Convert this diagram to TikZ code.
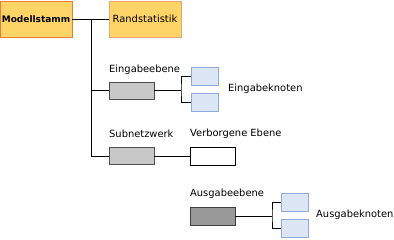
\documentclass[tikz,border=0pt]{standalone}
\usepackage{fontspec}
\setmainfont{DejaVu Sans}
\usepackage{xcolor}
\usetikzlibrary{positioning,calc}

\definecolor{stammfill}{HTML}{FFD467}
\definecolor{stammdraw}{HTML}{E47F35}
\definecolor{graufill}{HTML}{C8C8C8}
\definecolor{dunkelfill}{HTML}{999999}
\definecolor{knotfill}{HTML}{DCE6F4}
\definecolor{knotdraw}{HTML}{8FAADC}

\begin{document}
\begin{tikzpicture}[
    x=1pt, y=-1pt,
    box/.style={draw, inner sep=0pt, line width=0.8pt},
    stammbox/.style={box, fill=stammfill, draw=stammdraw, minimum width=72pt, minimum height=36pt},
    schichtbox/.style={box, fill=graufill, draw=black!70, minimum width=45pt, minimum height=17pt},
    ausbox/.style={box, fill=dunkelfill, draw=black!75, minimum width=45pt, minimum height=18pt},
    leerbox/.style={box, fill=white, draw=black, minimum width=45pt, minimum height=18pt},
    knotbox/.style={box, fill=knotfill, draw=knotdraw, minimum width=27pt, minimum height=18pt},
    lbl/.style={anchor=west, inner sep=0pt, font=\fontsize{9.9}{11}\selectfont},
    verb/.style={line width=1pt, black}
]
\useasboundingbox (0,0) rectangle (394,239);

% Stamm
\node[stammbox, font=\fontsize{9}{10}\selectfont\bfseries] (stamm) at (36,19) {Modellstamm};
\node[stammbox, draw=stammdraw!70, font=\fontsize{9.9}{11}\selectfont] (rand) at (145,19) {Randstatistik};

% Eingabe
\node[lbl] (ein-lbl) at (109,70) {Eingabeebene};
\node[schichtbox] (ein) at (131.5,90.5) {};
\node[knotbox] (ein-a) at (204.5,76) {};
\node[knotbox] (ein-b) at (204.5,102) {};
\node[lbl] (ein-knot) at (228,88.5) {Eingabeknoten};

% Subnetz
\node[lbl] (sub-lbl) at (109,134) {Subnetzwerk};
\node[schichtbox] (sub) at (131.5,156) {};
\node[lbl] (verb-lbl) at (190,134) {Verborgene Ebene};
\node[leerbox] (hid) at (212.5,156) {};

% Ausgabe
\node[lbl] (aus-lbl) at (190,194) {Ausgabeebene};
\node[ausbox] (aus) at (212.5,216) {};
\node[knotbox] (aus-a) at (295,202) {};
\node[knotbox] (aus-b) at (295,228) {};
\node[lbl] (aus-knot) at (316,214.5) {Ausgabeknoten};

\coordinate (stamm-t) at (91,19);
\coordinate (ein-j) at (181,90.5);
\coordinate (aus-j) at (272,216);

\draw[verb] (stamm) -- (rand);
\draw[verb] (stamm-t) |- (sub.west);
\draw[verb] (ein.west -| stamm-t) -- (ein.west);
\draw[verb] (ein.east) -- (ein-j);
\draw[verb] (ein-a.west) -| (ein-j) |- (ein-b.west);
\draw[verb] (sub.east) -- (hid.west);
\draw[verb] (aus.east) -- (aus-j);
\draw[verb] (aus-a.west) -| (aus-j) |- (aus-b.west);
\end{tikzpicture}
\end{document}
